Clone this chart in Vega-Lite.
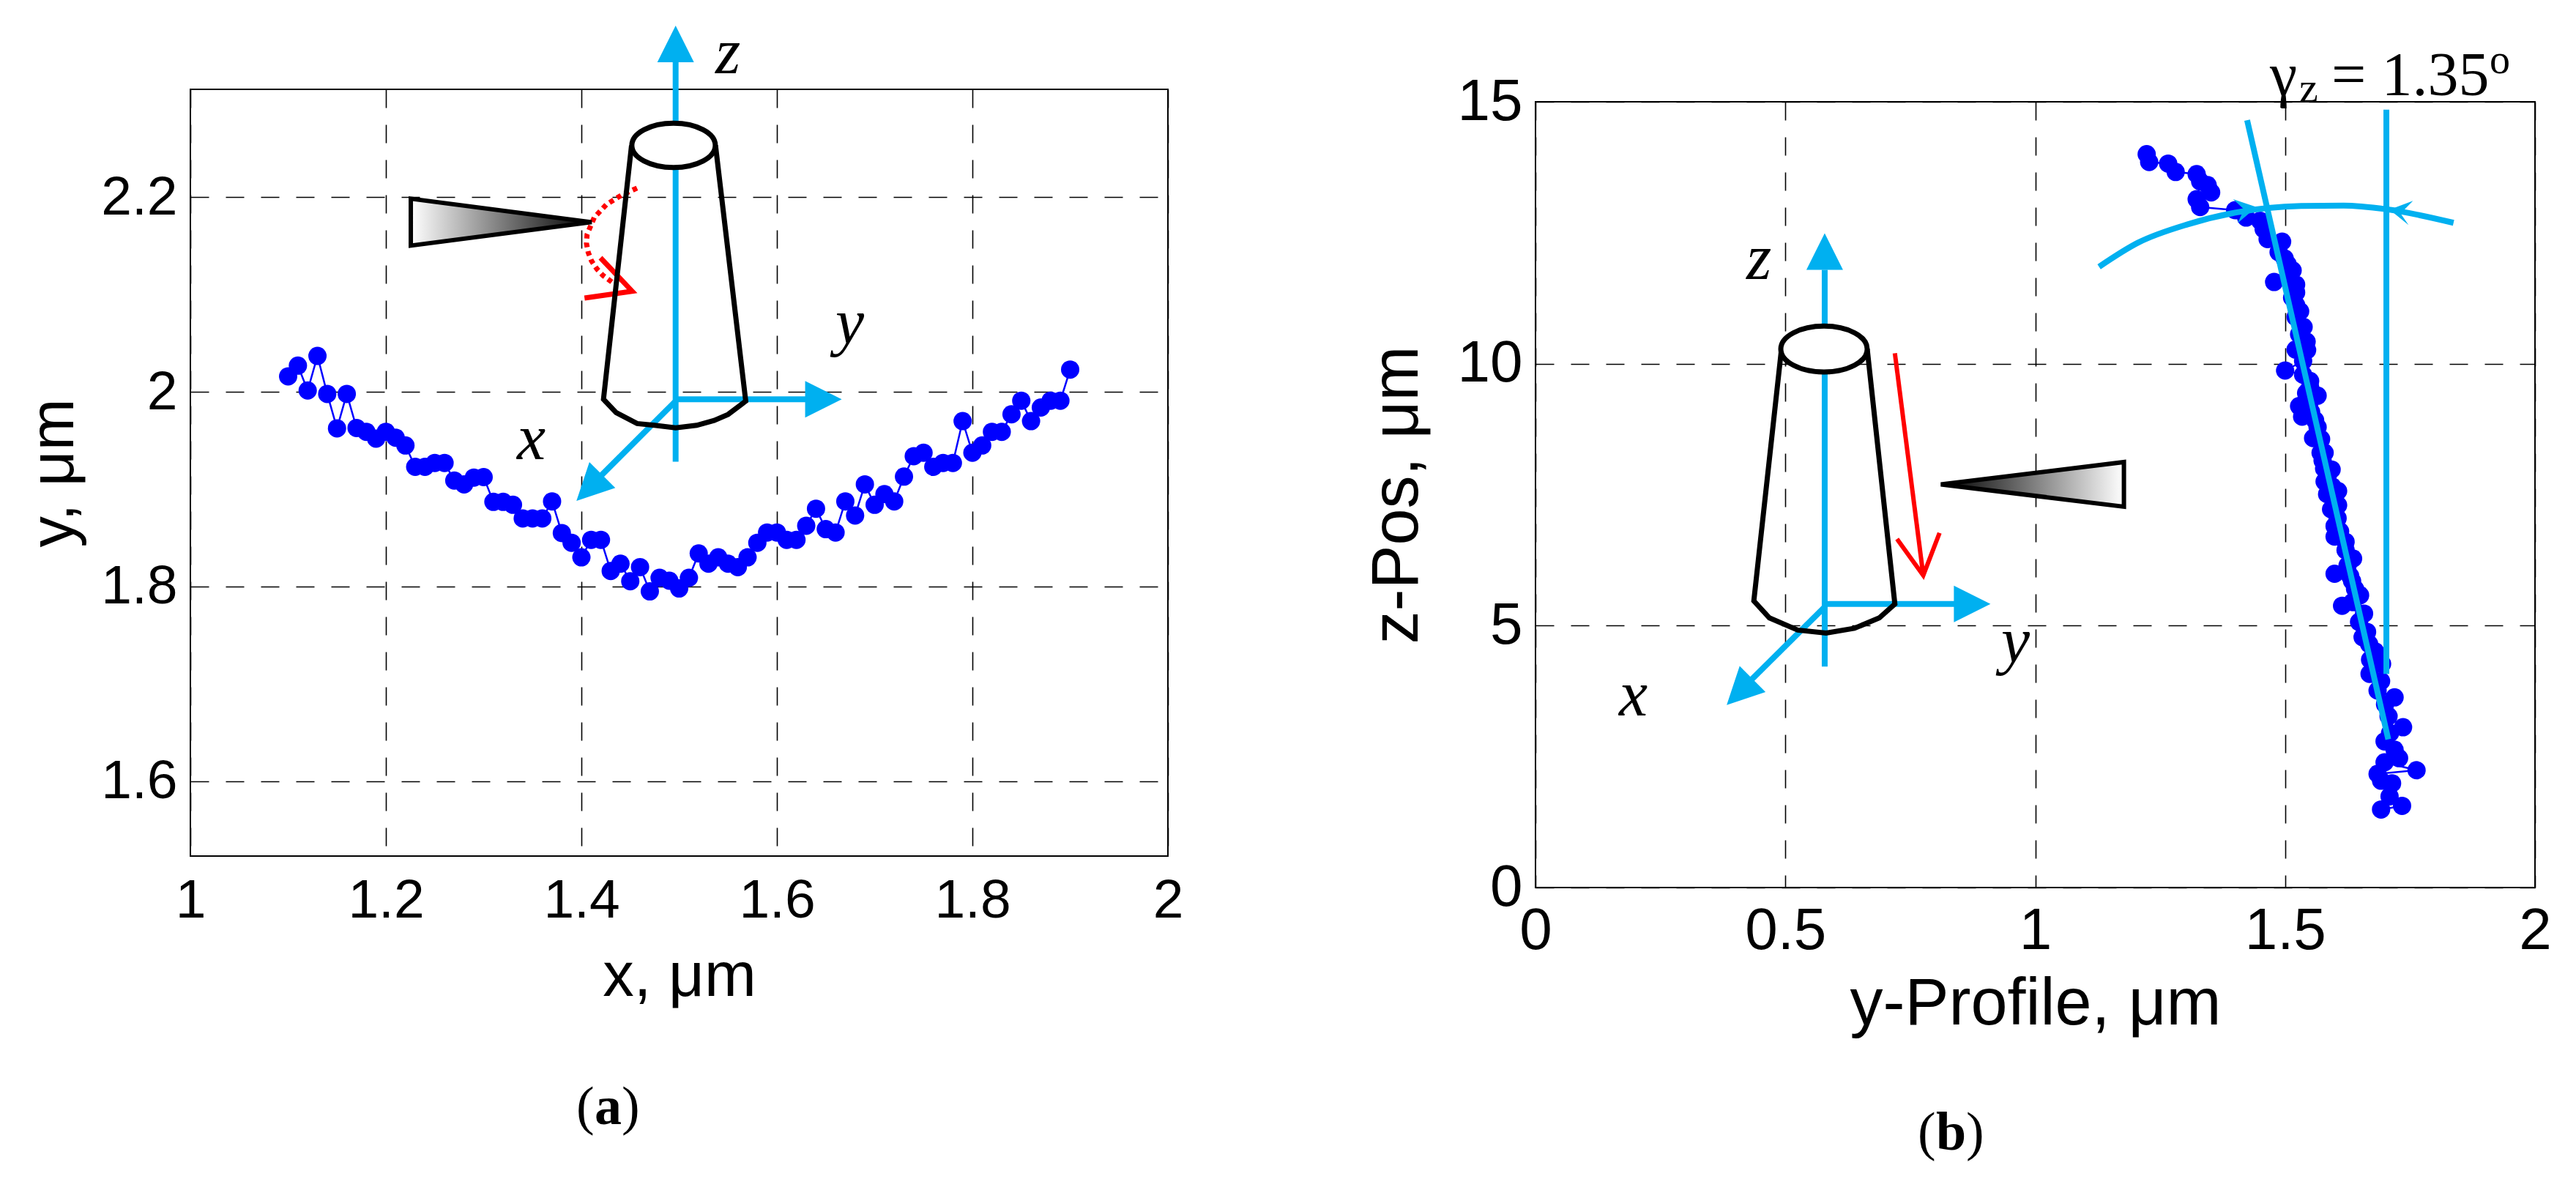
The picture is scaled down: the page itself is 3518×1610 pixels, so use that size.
{
"$schema":"https://vega.github.io/schema/vega-lite/v6.json",
"background":"white",
"padding":{"left":30,"top":28,"right":0,"bottom":0},
"autosize":{"type":"pad"},
"spacing":245,
"align":"none",
"config":{"view":{"stroke":"black","strokeWidth":2},"axis":{"grid":true,"gridColor":"black","gridOpacity":1,"gridWidth":1.6,"gridDash":[25,23],"ticks":false,"domain":false,"labelFont":"Liberation Sans","titleFont":"Liberation Sans","labelColor":"black","titleColor":"black","titleFontWeight":"normal","labelOverlap":false,"labelFlush":false,"labelBound":false}},
"datasets":{
"profileA":[{"x":1.10,"y":2.016},{"x":1.11,"y":2.027},{"x":1.12,"y":2.0015},{"x":1.13,"y":2.037},{"x":1.14,"y":1.998},{"x":1.15,"y":1.9626},{"x":1.16,"y":1.998},{"x":1.17,"y":1.963},{"x":1.18,"y":1.959},{"x":1.19,"y":1.952},{"x":1.20,"y":1.959},{"x":1.21,"y":1.953},{"x":1.22,"y":1.945},{"x":1.23,"y":1.923},{"x":1.24,"y":1.923},{"x":1.25,"y":1.927},{"x":1.26,"y":1.927},{"x":1.27,"y":1.909},{"x":1.28,"y":1.905},{"x":1.29,"y":1.912},{"x":1.30,"y":1.9125},{"x":1.31,"y":1.887},{"x":1.32,"y":1.887},{"x":1.33,"y":1.884},{"x":1.34,"y":1.87},{"x":1.35,"y":1.87},{"x":1.36,"y":1.87},{"x":1.37,"y":1.8875},{"x":1.38,"y":1.855},{"x":1.39,"y":1.845},{"x":1.40,"y":1.83},{"x":1.41,"y":1.848},{"x":1.42,"y":1.848},{"x":1.43,"y":1.816},{"x":1.44,"y":1.8235},{"x":1.45,"y":1.8055},{"x":1.46,"y":1.82},{"x":1.47,"y":1.795},{"x":1.48,"y":1.809},{"x":1.49,"y":1.806},{"x":1.50,"y":1.798},{"x":1.51,"y":1.809},{"x":1.52,"y":1.834},{"x":1.53,"y":1.8235},{"x":1.54,"y":1.83},{"x":1.55,"y":1.8235},{"x":1.56,"y":1.82},{"x":1.57,"y":1.83},{"x":1.58,"y":1.845},{"x":1.59,"y":1.8555},{"x":1.60,"y":1.8555},{"x":1.61,"y":1.848},{"x":1.62,"y":1.848},{"x":1.63,"y":1.8625},{"x":1.64,"y":1.88},{"x":1.65,"y":1.859},{"x":1.66,"y":1.8555},{"x":1.67,"y":1.8875},{"x":1.68,"y":1.873},{"x":1.69,"y":1.905},{"x":1.70,"y":1.884},{"x":1.71,"y":1.895},{"x":1.72,"y":1.8875},{"x":1.73,"y":1.913},{"x":1.74,"y":1.934},{"x":1.75,"y":1.9375},{"x":1.76,"y":1.923},{"x":1.77,"y":1.927},{"x":1.78,"y":1.927},{"x":1.79,"y":1.97},{"x":1.80,"y":1.9375},{"x":1.81,"y":1.945},{"x":1.82,"y":1.959},{"x":1.83,"y":1.959},{"x":1.84,"y":1.977},{"x":1.85,"y":1.991},{"x":1.86,"y":1.97},{"x":1.87,"y":1.984},{"x":1.88,"y":1.991},{"x":1.89,"y":1.991},{"x":1.90,"y":2.023}],
"profileB":[{"x":1.223,"y":14.0},{"x":1.228,"y":13.85},{"x":1.266,"y":13.82},{"x":1.281,"y":13.66},{"x":1.323,"y":13.62},{"x":1.33,"y":13.48},{"x":1.345,"y":13.41},{"x":1.352,"y":13.27},{"x":1.323,"y":13.14},{"x":1.33,"y":12.99},{"x":1.4,"y":12.93},{"x":1.422,"y":12.79},{"x":1.45,"y":12.73},{"x":1.457,"y":12.57},{"x":1.465,"y":12.38},{"x":1.494,"y":12.33},{"x":1.487,"y":12.13},{"x":1.499,"y":12.01},{"x":1.505,"y":11.9},{"x":1.515,"y":11.78},{"x":1.51,"y":11.65},{"x":1.478,"y":11.56},{"x":1.522,"y":11.51},{"x":1.522,"y":11.36},{"x":1.514,"y":11.26},{"x":1.522,"y":11.12},{"x":1.53,"y":11.0},{"x":1.521,"y":10.89},{"x":1.537,"y":10.7},{"x":1.528,"y":10.56},{"x":1.543,"y":10.42},{"x":1.544,"y":10.26},{"x":1.521,"y":10.27},{"x":1.536,"y":10.05},{"x":1.5,"y":9.87},{"x":1.536,"y":9.79},{"x":1.55,"y":9.67},{"x":1.55,"y":9.55},{"x":1.542,"y":9.44},{"x":1.565,"y":9.39},{"x":1.528,"y":9.19},{"x":1.548,"y":9.21},{"x":1.552,"y":9.08},{"x":1.534,"y":8.99},{"x":1.56,"y":8.92},{"x":1.565,"y":8.79},{"x":1.556,"y":8.58},{"x":1.572,"y":8.56},{"x":1.571,"y":8.3},{"x":1.579,"y":8.3},{"x":1.575,"y":8.15},{"x":1.578,"y":8.0},{"x":1.593,"y":7.98},{"x":1.585,"y":7.85},{"x":1.579,"y":7.75},{"x":1.595,"y":7.65},{"x":1.606,"y":7.57},{"x":1.584,"y":7.51},{"x":1.597,"y":7.4},{"x":1.606,"y":7.3},{"x":1.592,"y":7.22},{"x":1.605,"y":7.05},{"x":1.599,"y":6.9},{"x":1.61,"y":6.8},{"x":1.599,"y":6.7},{"x":1.621,"y":6.6},{"x":1.621,"y":6.44},{"x":1.636,"y":6.28},{"x":1.625,"y":6.15},{"x":1.599,"y":5.99},{"x":1.63,"y":5.95},{"x":1.634,"y":5.85},{"x":1.64,"y":5.7},{"x":1.65,"y":5.58},{"x":1.635,"y":5.45},{"x":1.614,"y":5.38},{"x":1.658,"y":5.23},{"x":1.648,"y":5.07},{"x":1.664,"y":4.88},{"x":1.655,"y":4.78},{"x":1.668,"y":4.65},{"x":1.68,"y":4.51},{"x":1.67,"y":4.35},{"x":1.694,"y":4.27},{"x":1.669,"y":4.08},{"x":1.692,"y":3.94},{"x":1.685,"y":3.76},{"x":1.719,"y":3.63},{"x":1.7,"y":3.5},{"x":1.707,"y":3.27},{"x":1.736,"y":3.06},{"x":1.71,"y":2.95},{"x":1.699,"y":2.79},{"x":1.719,"y":2.63},{"x":1.728,"y":2.47},{"x":1.699,"y":2.39},{"x":1.763,"y":2.24},{"x":1.685,"y":2.17},{"x":1.692,"y":2.04},{"x":1.714,"y":1.99},{"x":1.709,"y":1.74},{"x":1.734,"y":1.56},{"x":1.692,"y":1.49}]
},
"hconcat":[
{"width":1335,"height":1047,
"encoding":{
"x":{"field":"x","type":"quantitative","scale":{"domain":[1,2],"nice":false,"zero":false},"axis":{"values":[1,1.2,1.4,1.6,1.8,2],"format":"~g","title":"x, μm","labelFontSize":75,"titleFontSize":85,"labelPadding":24,"titlePadding":25}},
"y":{"field":"y","type":"quantitative","scale":{"domain":[1.523,2.311],"nice":false,"zero":false},"axis":{"values":[1.6,1.8,2,2.2],"format":"~g","title":"y, μm","labelFontSize":75,"titleFontSize":85,"labelPadding":18,"titlePadding":20}}},
"layer":[
{"data":{"name":"profileA"},"mark":{"type":"line","color":"#0000FF","strokeWidth":2.5,"clip":false},"encoding":{"order":{"value":null}}},
{"data":{"name":"profileA"},"mark":{"type":"point","shape":"circle","filled":true,"color":"#0000FF","opacity":1,"size":625}},
{"data":{"values":[{"part":"arc","x":1.4569,"y":2.2095},{"part":"arc","x":1.4414,"y":2.2025},{"part":"arc","x":1.4257,"y":2.1927},{"part":"arc","x":1.4132,"y":2.1794},{"part":"arc","x":1.4058,"y":2.1618},{"part":"arc","x":1.4052,"y":2.1525},{"part":"arc","x":1.407,"y":2.1434},{"part":"arc","x":1.4103,"y":2.1347},{"part":"arc","x":1.4157,"y":2.1266},{"part":"arc","x":1.422,"y":2.1198},{"part":"arc","x":1.432,"y":2.1123}]},"mark":{"type":"line","color":"#FF0000","strokeWidth":7,"strokeDash":[6.5,5.5]},"encoding":{"order":{"value":null}}},
{"data":{"values":[{"x":1.4195,"y":2.1379},{"x":1.4519,"y":2.1035},{"x":1.4032,"y":2.0965}]},"mark":{"type":"line","color":"#FF0000","strokeWidth":7,"strokeJoin":"miter"},"encoding":{"order":{"value":null}}},
{"data":{"values":[{"part":"z","x":1.4964,"y":2.345},{"part":"z","x":1.4964,"y":1.9282},{"part":"y","x":1.4964,"y":1.9925},{"part":"y","x":1.6325,"y":1.9925},{"part":"x","x":1.4964,"y":1.9906},{"part":"x","x":1.4176,"y":1.9114}]},"mark":{"type":"line","color":"#00B0F0","strokeWidth":8},"encoding":{"detail":{"field":"part"},"order":{"value":null}}},
{"data":{"values":[{"x":1.4964,"y":2.3577}]},"mark":{"type":"point","shape":"M0,-1L1,1L-1,1Z","filled":true,"color":"#00B0F0","opacity":1,"size":2500}},
{"data":{"values":[{"x":1.6476,"y":1.9925}]},"mark":{"type":"point","shape":"M0,-1L1,1L-1,1Z","filled":true,"color":"#00B0F0","opacity":1,"size":2500,"angle":90}},
{"data":{"values":[{"x":1.4082,"y":1.9013}]},"mark":{"type":"point","shape":"M0,-1L1,1L-1,1Z","filled":true,"color":"#00B0F0","opacity":1,"size":2500,"angle":225}},
{"data":{"values":[{"x":1.4513,"y":2.2534},{"x":1.4226,"y":1.9925},{"x":1.4355,"y":1.9788},{"x":1.457,"y":1.9675},{"x":1.4749,"y":1.9657},{"x":1.4964,"y":1.9632},{"x":1.5179,"y":1.9657},{"x":1.5358,"y":1.9707},{"x":1.5501,"y":1.9769},{"x":1.5681,"y":1.9906},{"x":1.5372,"y":2.2534}]},"mark":{"type":"line","color":"black","strokeWidth":7},"encoding":{"order":{"value":null}}},
{"data":{"values":[{"x":1.4943,"y":2.2534}]},"mark":{"type":"point","shape":"M-1,0A1,0.53 0 1,1 1,0A1,0.53 0 1,1 -1,0Z","filled":true,"fill":"white","stroke":"black","strokeWidth":7,"opacity":1,"size":12996}},
{"data":{"values":[{"x":1.318,"y":2.1745}]},"mark":{"type":"point","shape":"M-1,-0.259L-1,0.259L1,0Z","filled":true,"opacity":1,"stroke":"black","strokeWidth":6,"strokeJoin":"miter","size":61009,"fill":{"gradient":"linear","x1":0,"y1":0,"x2":1,"y2":0,"stops":[{"offset":0,"color":"#FFFFFF"},{"offset":0.85,"color":"#222222"},{"offset":1,"color":"#000000"}]}}},
{"data":{"values":[{"t":"x","x":1.3341,"y":1.9307},{"t":"y","x":1.6599,"y":2.0497},{"t":"z","x":1.5371,"y":2.3278}]},"mark":{"type":"text","font":"Liberation Serif","fontStyle":"italic","fontSize":88,"align":"left","baseline":"alphabetic","color":"black"},"encoding":{"text":{"field":"t"}}},
{"data":{"values":[{"t":"(","x":1.3948,"y":1.2472},{"t":")","x":1.4412,"y":1.2472}]},"mark":{"type":"text","font":"Liberation Serif","fontSize":74,"align":"left","baseline":"alphabetic","color":"black"},"encoding":{"text":{"field":"t"}}},
{"data":{"values":[{"t":"a","x":1.4135,"y":1.2472}]},"mark":{"type":"text","font":"Liberation Serif","fontWeight":"bold","fontSize":74,"align":"left","baseline":"alphabetic","color":"black"},"encoding":{"text":{"field":"t"}}}
]},
{"spacing":-72,"vconcat":[
{"width":1,"height":1,"view":{"stroke":null},"data":{"values":[{"x":0}]},"mark":{"type":"point","opacity":0}},
{"width":1365,"height":1073,
"encoding":{
"x":{"field":"x","type":"quantitative","scale":{"domain":[0,2],"nice":false},"axis":{"values":[0,0.5,1,1.5,2],"format":"~g","title":"y-Profile, μm","labelFontSize":80,"titleFontSize":90,"labelPadding":20,"titlePadding":16}},
"y":{"field":"y","type":"quantitative","scale":{"domain":[0,15],"nice":false},"axis":{"values":[0,5,10,15],"format":"~g","title":"z-Pos, μm","labelFontSize":80,"titleFontSize":90,"labelPadding":18,"titlePadding":36}}},
"layer":[
{"data":{"name":"profileB"},"mark":{"type":"line","color":"#0000FF","strokeWidth":2.5},"encoding":{"order":{"value":null}}},
{"data":{"name":"profileB"},"mark":{"type":"point","shape":"circle","filled":true,"color":"#0000FF","opacity":1,"size":625}},
{"data":{"values":[{"part":"tilt","x":1.424,"y":14.65},{"part":"tilt","x":1.7064,"y":2.828},{"part":"vert","x":1.7026,"y":14.85},{"part":"vert","x":1.7026,"y":4.08}]},"mark":{"type":"line","color":"#00B0F0","strokeWidth":8},"encoding":{"detail":{"field":"part"},"order":{"value":null}}},
{"data":{"values":[{"x":1.1277,"y":11.85},{"x":1.2057,"y":12.31},{"x":1.305,"y":12.66},{"x":1.4043,"y":12.89},{"x":1.532,"y":13.01},{"x":1.617,"y":13.02},{"x":1.7021,"y":12.95},{"x":1.837,"y":12.69}]},"mark":{"type":"line","color":"#00B0F0","strokeWidth":8,"interpolate":"monotone"}},
{"data":{"values":[{"x":1.4428,"y":12.99}]},"mark":{"type":"point","shape":"M0,0L-1,-0.34L-0.53,0.1L-0.81,0.69Z","filled":true,"color":"#00B0F0","opacity":1,"size":4096}},
{"data":{"values":[{"x":1.709,"y":12.94}]},"mark":{"type":"point","shape":"M0,0L1,-0.38L0.47,0.16L0.81,0.65Z","filled":true,"color":"#00B0F0","opacity":1,"size":4096}},
{"data":{"values":[{"part":"z","x":0.5787,"y":11.79},{"part":"z","x":0.5787,"y":4.219},{"part":"y","x":0.5787,"y":5.413},{"part":"y","x":0.844,"y":5.413},{"part":"x","x":0.5787,"y":5.355},{"part":"x","x":0.4255,"y":3.906}]},"mark":{"type":"line","color":"#00B0F0","strokeWidth":8},"encoding":{"detail":{"field":"part"},"order":{"value":null}}},
{"data":{"values":[{"x":0.5787,"y":12.14}]},"mark":{"type":"point","shape":"M0,-1L1,1L-1,1Z","filled":true,"color":"#00B0F0","opacity":1,"size":2500}},
{"data":{"values":[{"x":0.8738,"y":5.413}]},"mark":{"type":"point","shape":"M0,-1L1,1L-1,1Z","filled":true,"color":"#00B0F0","opacity":1,"size":2500,"angle":90}},
{"data":{"values":[{"x":0.4085,"y":3.733}]},"mark":{"type":"point","shape":"M0,-1L1,1L-1,1Z","filled":true,"color":"#00B0F0","opacity":1,"size":2500,"angle":225}},
{"data":{"values":[{"part":"shaft","x":0.7191,"y":10.2},{"part":"shaft","x":0.7759,"y":5.958},{"part":"head","x":0.7234,"y":6.654},{"part":"head","x":0.7759,"y":5.958},{"part":"head","x":0.8085,"y":6.77}]},"mark":{"type":"line","color":"#FF0000","strokeWidth":6},"encoding":{"detail":{"field":"part"},"order":{"value":null}}},
{"data":{"values":[{"x":0.4922,"y":10.28},{"x":0.4369,"y":5.471},{"x":0.4681,"y":5.147},{"x":0.5248,"y":4.915},{"x":0.5816,"y":4.857},{"x":0.6383,"y":4.95},{"x":0.6879,"y":5.147},{"x":0.7191,"y":5.413},{"x":0.6638,"y":10.28}]},"mark":{"type":"line","color":"black","strokeWidth":7},"encoding":{"order":{"value":null}}},
{"data":{"values":[{"x":0.5773,"y":10.28}]},"mark":{"type":"point","shape":"M-1,0A1,0.53 0 1,1 1,0A1,0.53 0 1,1 -1,0Z","filled":true,"fill":"white","stroke":"black","strokeWidth":7,"opacity":1,"size":13924}},
{"data":{"values":[{"x":0.9943,"y":7.697}]},"mark":{"type":"point","shape":"M1,-0.244L1,0.244L-1,0Z","filled":true,"opacity":1,"stroke":"black","strokeWidth":6,"strokeJoin":"miter","size":62500,"fill":{"gradient":"linear","x1":0,"y1":0,"x2":1,"y2":0,"stops":[{"offset":0,"color":"#000000"},{"offset":0.15,"color":"#222222"},{"offset":1,"color":"#FFFFFF"}]}}},
{"data":{"values":[{"t":"x","x":0.167,"y":3.287},{"t":"y","x":0.9319,"y":4.31},{"t":"z","x":0.422,"y":11.62}]},"mark":{"type":"text","font":"Liberation Serif","fontStyle":"italic","fontSize":88,"align":"left","baseline":"alphabetic","color":"black"},"encoding":{"text":{"field":"t"}}},
{"data":{"values":[{"t":"γ","x":1.4696,"y":15.13}]},"mark":{"type":"text","font":"Liberation Serif","fontSize":84,"align":"left","baseline":"alphabetic","color":"black"},"encoding":{"text":{"field":"t"}}},
{"data":{"values":[{"t":"z","x":1.5282,"y":15.0}]},"mark":{"type":"text","font":"Liberation Serif","fontSize":58,"align":"left","baseline":"alphabetic","color":"black"},"encoding":{"text":{"field":"t"}}},
{"data":{"values":[{"t":"= 1.35","x":1.5927,"y":15.13}]},"mark":{"type":"text","font":"Liberation Serif","fontSize":84,"align":"left","baseline":"alphabetic","color":"black"},"encoding":{"text":{"field":"t"}}},
{"data":{"values":[{"t":"o","x":1.909,"y":15.54}]},"mark":{"type":"text","font":"Liberation Serif","fontSize":56,"align":"left","baseline":"alphabetic","color":"black"},"encoding":{"text":{"field":"t"}}},
{"data":{"values":[{"t":"(","x":0.7648,"y":-5.007},{"t":")","x":0.8615,"y":-5.007}]},"mark":{"type":"text","font":"Liberation Serif","fontSize":74,"align":"left","baseline":"alphabetic","color":"black"},"encoding":{"text":{"field":"t"}}},
{"data":{"values":[{"t":"b","x":0.8015,"y":-5.007}]},"mark":{"type":"text","font":"Liberation Serif","fontWeight":"bold","fontSize":74,"align":"left","baseline":"alphabetic","color":"black"},"encoding":{"text":{"field":"t"}}}
]}
]}
]
}
